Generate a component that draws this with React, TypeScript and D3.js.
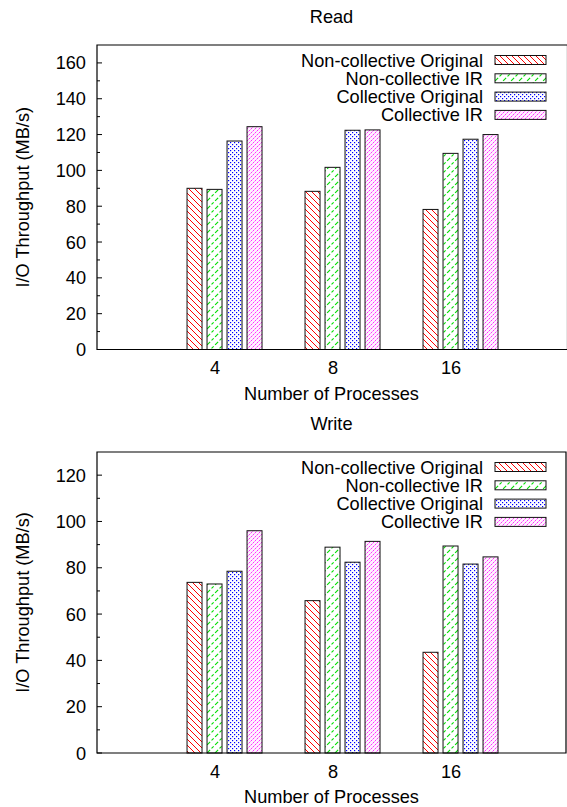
import React from "react";
import * as d3 from "d3";

const categories = ["4", "8", "16"];
const seriesNames = ["Non-collective Original", "Non-collective IR", "Collective Original", "Collective IR"];

const readNonCollOriginal = [90.0, 88.3, 78.2];
const readNonCollIR = [89.4, 101.7, 109.5];
const readCollOriginal = [116.4, 122.4, 117.4];
const readCollIR = [124.4, 122.6, 120.0];

const writeNonCollOriginal = [73.7, 65.8, 43.5];
const writeNonCollIR = [73.0, 88.9, 89.4];
const writeCollOriginal = [78.5, 82.4, 81.6];
const writeCollIR = [96.0, 91.4, 84.7];

const readTicks = [0, 20, 40, 60, 80, 100, 120, 140, 160];
const writeTicks = [0, 20, 40, 60, 80, 100, 120];

const W = 567;
const H = 807;
const FONT = "'Liberation Sans', Arial, Helvetica, sans-serif";
const FS = 18.2;
const patternIds = ["pRed", "pGreen", "pBlue", "pMag"];

function Patterns() {
  return (
    <defs>
      <pattern id="pRed" patternUnits="userSpaceOnUse" width={6} height={6}>
        <path d="M0,0 L6,6 M-1,5 L1,7 M5,-1 L7,1" stroke="#ff0000" strokeWidth={1} fill="none" />
      </pattern>
      <pattern id="pGreen" patternUnits="userSpaceOnUse" width={8} height={8}>
        <path d="M0,8 L8,0 M-1,1 L1,-1 M7,9 L9,7" stroke="#00dd00" strokeWidth={1.1} strokeDasharray="3,2" fill="none" />
      </pattern>
      <pattern id="pBlue" patternUnits="userSpaceOnUse" width={4} height={4}>
        <rect x={0} y={0} width={1.2} height={1.2} fill="#0000ff" />
        <rect x={2} y={2} width={1.2} height={1.2} fill="#0000ff" />
      </pattern>
      <pattern id="pMag" patternUnits="userSpaceOnUse" width={4} height={4}>
        <rect x={0} y={0} width={4} height={4} fill="#fff0ff" />
        <rect x={3} y={0} width={1} height={1} fill="#ff33ff" />
        <rect x={1} y={2} width={1} height={1} fill="#ff33ff" />
        <rect x={0} y={3} width={1} height={1} fill="#ff99ff" />
        <rect x={2} y={1} width={1} height={1} fill="#ff99ff" />
      </pattern>
    </defs>
  );
}

type PanelProps = {
  title: string;
  top: number;
  zeroY: number;
  yMax: number;
  ticks: number[];
  series: number[][];
  rightEdge: number;
};

function Panel({ title, top, zeroY, yMax, ticks, series, rightEdge }: PanelProps) {
  const left = 97;
  const x = d3.scaleLinear().domain([-1, 3]).range([left, left + 4 * 118]);
  const y = d3.scaleLinear().domain([0, yMax]).range([zeroY, top]);
  const barOff = -0.237;
  const barStep = 0.1695;
  const barW = 0.127;
  const minorTicks = d3.range(10, yMax, 20);
  const legendRow = (i: number) => top + 15 + i * 18.3;
  return (
    <g>
      <text x={(left + 566) / 2} y={top - 22} textAnchor="middle" fontFamily={FONT} fontSize={FS}>{title}</text>
      {series.map((vals, si) =>
        vals.map((v, ci) => {
          const x0 = x(ci + barOff + si * barStep);
          const x1 = x(ci + barOff + si * barStep + barW);
          return (
            <rect key={`${si}-${ci}`} x={x0} y={y(v)} width={x1 - x0} height={y(0) - y(v)}
              fill={`url(#${patternIds[si]})`} stroke="#111" strokeWidth={1} />
          );
        })
      )}
      <path d={`M${left},${zeroY} L${left},${top} L${rightEdge},${top} L${rightEdge},${zeroY} Z`} fill="none" stroke="#000" strokeWidth={1.2} />
      {ticks.map((t) => (
        <g key={t}>
          <line x1={left} x2={left + 5} y1={y(t)} y2={y(t)} stroke="#000" strokeWidth={1} />
          <text x={86} y={y(t) + 6.5} textAnchor="end" fontFamily={FONT} fontSize={FS}>{t}</text>
        </g>
      ))}
      {minorTicks.map((t) => (
        <line key={`m${t}`} x1={left} x2={left + 3} y1={y(t)} y2={y(t)} stroke="#000" strokeWidth={1} />
      ))}
      {categories.map((c, ci) => (
        <text key={c} x={x(ci)} y={zeroY + 24.5} textAnchor="middle" fontFamily={FONT} fontSize={FS}>{c}</text>
      ))}
      <text x={(left + 566) / 2} y={zeroY + 50} textAnchor="middle" fontFamily={FONT} fontSize={FS}>Number of Processes</text>
      <text transform={`translate(${29},${(top + zeroY) / 2}) rotate(-90)`} textAnchor="middle" fontFamily={FONT} fontSize={FS}>I/O Throughput (MB/s)</text>
      {seriesNames.map((n, i) => (
        <g key={n}>
          <text x={483} y={legendRow(i) + 6.5} textAnchor="end" fontFamily={FONT} fontSize={FS}>{n}</text>
          <rect x={495} y={legendRow(i) - 4.5} width={51} height={9} fill={`url(#${patternIds[i]})`} stroke="#111" strokeWidth={1} />
        </g>
      ))}
    </g>
  );
}

export default function App() {
  return (
    <svg width={W} height={H} style={{ position: "absolute", left: 0, top: 0, background: "#fff" }}>
      <Patterns />
      <rect x={0} y={0} width={W} height={H} fill="#fff" />
      <Panel title="Read" top={45} zeroY={349.5} yMax={170} ticks={readTicks} rightEdge={567.5}
        series={[readNonCollOriginal, readNonCollIR, readCollOriginal, readCollIR]} />
      <Panel title="Write" top={452} zeroY={753} yMax={130} ticks={writeTicks} rightEdge={566}
        series={[writeNonCollOriginal, writeNonCollIR, writeCollOriginal, writeCollIR]} />
    </svg>
  );
}
